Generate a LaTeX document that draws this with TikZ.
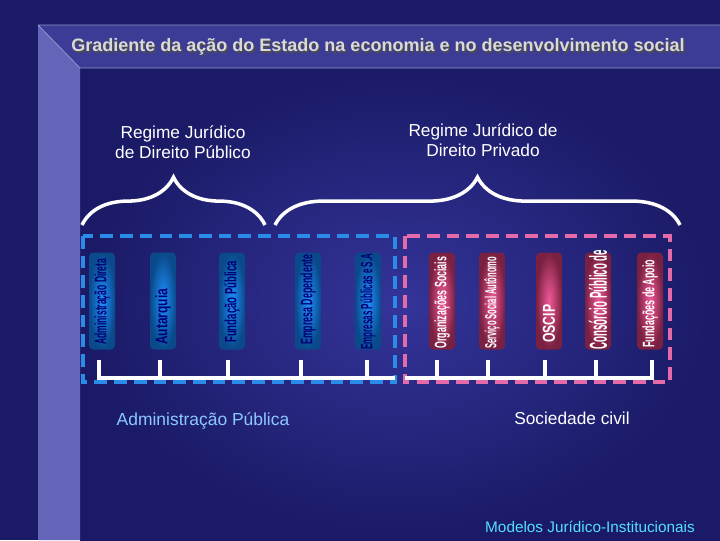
\documentclass[tikz,border=0pt]{standalone}
\usepackage{fontspec}
\setmainfont{Liberation Sans}
\usetikzlibrary{decorations.pathreplacing}
\definecolor{bgA}{HTML}{1A1A66}
\definecolor{bgB}{HTML}{34349A}
\definecolor{leftp}{HTML}{6464B8}
\definecolor{topp}{HTML}{3C3C96}
\definecolor{cylB}{HTML}{1E90FF}
\definecolor{cylBd}{HTML}{0A4A8A}
\definecolor{cylP}{HTML}{F05A9A}
\definecolor{cylPd}{HTML}{7A2040}
\definecolor{dashB}{HTML}{2A8CE8}
\definecolor{dashP}{HTML}{E46AAA}
\definecolor{lblue}{HTML}{8CC8FF}
\newcommand{\vtxt}[3]{\resizebox{#1}{#2}{\bfseries #3}}
\tikzset{
  cylb/.style={rounded corners=3pt, inner color=cylB, outer color=cylBd, minimum width=26*0.025cm, minimum height=97*0.025cm, draw=none},
  cylp/.style={rounded corners=3pt, inner color=cylP, outer color=cylPd, minimum width=26*0.025cm, minimum height=97*0.025cm, draw=none},
  vlab/.style={rotate=90, anchor=west, inner sep=0pt},
  wl/.style={white, line width=2.2pt},
  brc/.style={white, line width=2.5pt, decorate, decoration={brace, amplitude=34pt}},
  lbl/.style={white, font=\fontsize{12.3}{14.5}\selectfont, align=center}
}
\begin{document}
\begin{tikzpicture}[x=0.025cm,y=-0.025cm]
\useasboundingbox (0,0) rectangle (720,540);
\fill[bgA] (0,0) rectangle (720,540);
\fill[inner color=bgB, outer color=bgA] (80,68) rectangle (720,540);
\fill[leftp] (38,25) -- (80,68) -- (80,540) -- (38,540) -- cycle;
\fill[topp] (38,25) -- (720,25) -- (720,68) -- (80,68) -- cycle;
\draw[leftp!70!white, line width=0.6pt] (38,25) -- (720,25) (80,68) -- (720,68) (38,25) -- (80,68);
\node[font=\bfseries\fontsize{12.8}{15}\selectfont, black!70] (tsh) at (379.5,48.5) {Gradiente da ação do Estado na economia e no desenvolvimento social};
\node[font=\bfseries\fontsize{12.8}{15}\selectfont, white!85!black] (title) at (378,47) {Gradiente da ação do Estado na economia e no desenvolvimento social};
\node[lbl] (rpub) at (183,142) {Regime Jurídico\\de Direito Público};
\node[lbl] (rpriv) at (483,140) {Regime Jurídico de\\Direito Privado};
\coordinate (b1a) at (82,225); \coordinate (b1b) at (265,225);
\coordinate (b2a) at (275,225); \coordinate (b2b) at (680,225);
\draw[brc] (b1a) -- (b1b);
\draw[brc] (b2a) -- (b2b);
\draw[dashB, line width=2.5pt, dash pattern=on 9pt off 5pt] (83,236) rectangle (395,382);
\draw[dashP, line width=2.5pt, dash pattern=on 9pt off 5pt] (405,236) rectangle (670,382);
\foreach \x [count=\i] in {102,163,232,308,368} \node[cylb] (cb\i) at (\x,301) {};
\foreach \x [count=\i] in {442,492,549,598,650} \node[cylp] (cp\i) at (\x,301) {};
\node[vlab, text=blue!45!black] at (102,345) {\vtxt{2.15cm}{0.3cm}{Administração Direta}};
\node[vlab, text=blue!45!black] at (163,345) {\vtxt{1.4cm}{0.3cm}{Autarquia}};
\node[vlab, text=blue!45!black] at (232,343) {\vtxt{2.05cm}{0.3cm}{Fundação Pública}};
\node[vlab, text=blue!45!black] at (308,345) {\vtxt{2.25cm}{0.3cm}{Empresa Dependente}};
\node[vlab, text=blue!45!black] at (368,350) {\vtxt{2.4cm}{0.3cm}{Empresas Públicas e S.A}};
\node[vlab, white] at (442,349) {\vtxt{2.3cm}{0.3cm}{Organizações Sociais}};
\node[vlab, white] at (492,349) {\vtxt{2.3cm}{0.3cm}{Serviço Social Autônomo}};
\node[vlab, white] at (549,343) {\vtxt{0.95cm}{0.3cm}{OSCIP}};
\node[vlab, white] at (598,350) {\vtxt{2.5cm}{0.45cm}{Consórcio Público de}};
\node[vlab, white] at (650,348) {\vtxt{2.2cm}{0.3cm}{Fundações de Apoio}};
\draw[wl] (99,360) -- (99,378) -- (395,378);
\foreach \x in {160,228,301,367} \draw[wl] (\x,360) -- (\x,378);
\draw[wl] (405,378) -- (652,378) -- (652,360);
\foreach \x in {437,488,545,596} \draw[wl] (\x,360) -- (\x,378);
\node[font=\fontsize{12.4}{14}\selectfont, text=lblue] (adm) at (203,421) {Administração Pública};
\node[font=\fontsize{12.3}{14}\selectfont, white] (soc) at (572,418) {Sociedade civil};
\node[font=\fontsize{10.9}{12}\selectfont, text=lblue!60!cyan] (mod) at (590,527) {Modelos Jurídico-Institucionais};
\end{tikzpicture}
\end{document}
